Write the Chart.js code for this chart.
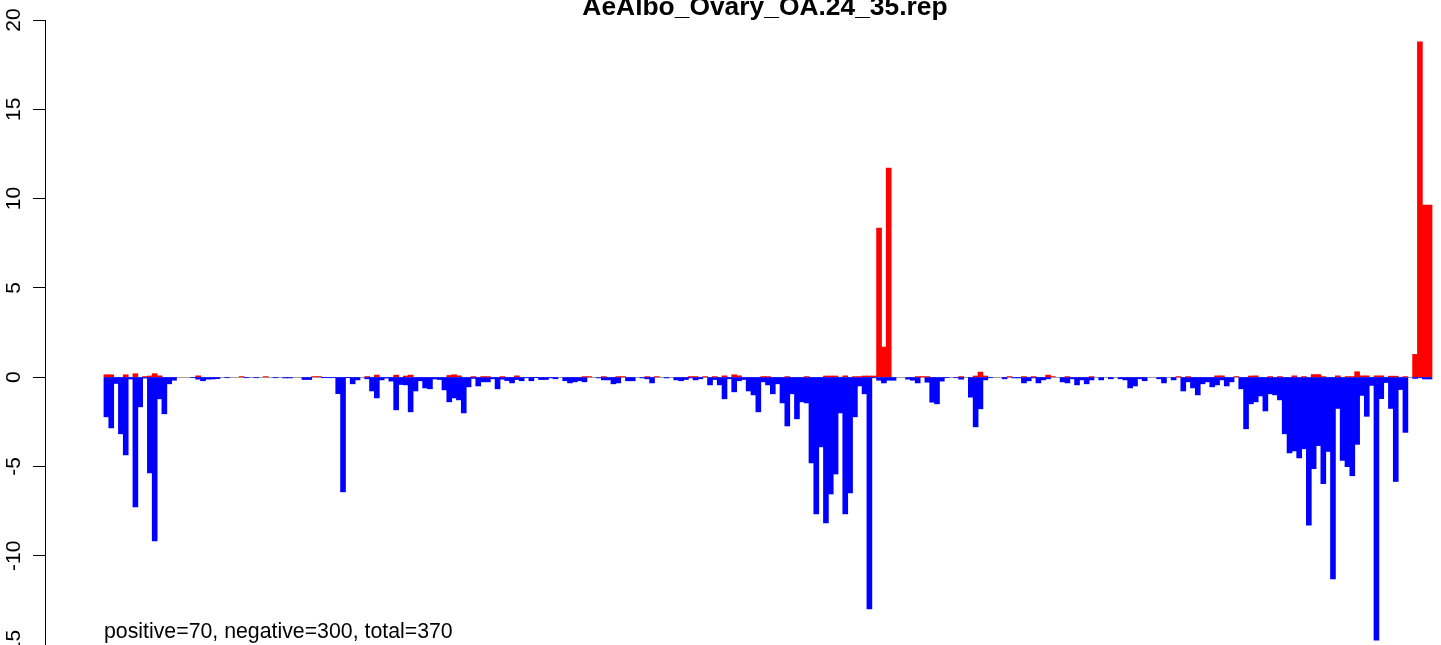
<!DOCTYPE html>
<html>
<head>
<meta charset="utf-8">
<script src="https://cdn.jsdelivr.net/npm/chart.js@4.4.0/dist/chart.umd.min.js"></script>
<style>
html,body{margin:0;padding:0;background:#fff;overflow:hidden}
#wrap{width:1441px;height:645px;position:relative}
canvas{display:block}
</style>
</head>
<body>
<div id="wrap"><canvas id="c" width="1441" height="645"></canvas></div>
<script>
const chartTitle = "AeAlbo_Ovary_OA.24_35.rep";
const noteText = "positive=70, negative=300, total=370";
const yTickValues = [-15, -10, -5, 0, 5, 10, 15, 20];

const positiveValues = [
  0.13,0.13,0,0,0.13,0,0.19,0,0.03,0.06,
  0.19,0.07,0,0,0,0,0,0,0,0.07,
  0,0,0,0,0,0,0,0,0.02,0,
  0,0,0,0.02,0,0,0,0,0,0,
  0,0,0,0.03,0.03,0,0,0,0,0,
  0,0,0,0,0.03,0,0.11,0,0,0,
  0.11,0,0.06,0.11,0,0,0,0,0,0,
  0,0.09,0.13,0.07,0,0,0.02,0,0.02,0.02,
  0,0,0.02,0,0,0.07,0,0,0,0,
  0,0,0,0,0,0,0,0,0,0.02,
  0.02,0,0,0.02,0,0,0.02,0.02,0,0,
  0,0,0.02,0,0.02,0,0,0,0,0,
  0,0.02,0.02,0,0.02,0,0.02,0,0.07,0,
  0.13,0.07,0,0,0,0,0.02,0.02,0,0,
  0,0.02,0,0,0,0.02,0,0,0,0.06,
  0.06,0.06,0,0.07,0,0.02,0.02,0.06,0.06,0.06,
  8.35,1.68,11.71,0,0,0,0,0,0.02,0.02,
  0.02,0,0,0,0,0,0,0.02,0,0,
  0.06,0.28,0.06,0,0,0,0,0.02,0,0,
  0.02,0,0.02,0,0,0.11,0.02,0,0,0.02,
  0,0,0,0,0.02,0,0,0,0,0,
  0,0,0,0,0,0,0,0,0,0,
  0,0,0.02,0,0.02,0,0,0,0,0,
  0.07,0.07,0,0,0.03,0,0,0.06,0.07,0,
  0,0.02,0,0.02,0,0,0.07,0,0.02,0,
  0.14,0.14,0.02,0,0,0.07,0,0.02,0.02,0.30,
  0.07,0.07,0,0.07,0.07,0,0.05,0.05,0,0.02,
  0,1.27,18.77,9.63,9.63
];

const negativeValues = [
  -2.22,-2.84,-0.35,-3.17,-4.35,-0.10,-7.26,-1.66,-0.05,-5.36,
  -9.17,-1.21,-2.05,-0.37,-0.17,0,0,0,-0.03,-0.11,
  -0.20,-0.11,-0.10,-0.08,0,-0.03,0,0,0,-0.03,
  0,-0.03,0,0,0,-0.03,0,-0.04,-0.04,0,
  0,-0.13,-0.13,0,0,-0.02,-0.03,-0.03,-0.92,-6.42,
  -0.02,-0.37,-0.15,0,-0.09,-0.77,-1.16,-0.15,-0.05,-0.22,
  -1.83,-0.41,-0.43,-1.94,-0.77,-0.20,-0.60,-0.65,-0.10,-0.13,
  -0.71,-1.38,-1.16,-1.27,-2.00,-0.54,-0.07,-0.49,-0.26,-0.26,
  -0.09,-0.65,-0.11,-0.19,-0.32,-0.13,-0.20,-0.03,-0.20,-0.02,
  -0.13,-0.13,-0.04,-0.09,0,-0.20,-0.32,-0.26,-0.20,-0.26,
  0,0,-0.04,-0.15,-0.15,-0.37,-0.32,0,-0.20,-0.20,
  0,-0.04,-0.09,-0.32,0,0,-0.04,0,-0.15,-0.20,
  -0.13,-0.04,-0.15,-0.09,0,-0.43,-0.13,-0.43,-1.21,-0.09,
  -0.82,-0.20,-0.13,-0.77,-0.99,-1.94,-0.26,-0.43,-0.93,-0.37,
  -1.44,-2.73,-0.93,-2.33,-1.38,-1.44,-4.80,-7.66,-3.90,-8.16,
  -6.54,-5.42,-2.00,-7.66,-6.48,-2.22,-0.49,-0.93,-12.98,-0.03,
  -0.17,-0.32,-0.17,-0.17,0,0,-0.11,-0.17,-0.32,0,
  -0.28,-1.40,-1.49,-0.22,-0.03,0,-0.03,-0.11,0,-1.12,
  -2.78,-1.77,-0.15,-0.03,0,0,-0.09,0,-0.04,-0.04,
  -0.32,-0.20,-0.04,-0.32,-0.15,-0.09,0,0,-0.26,-0.32,
  -0.09,-0.43,-0.15,-0.37,-0.15,0,-0.15,0,-0.09,0,
  -0.09,-0.15,-0.60,-0.49,-0.09,-0.20,0,0,-0.09,-0.32,
  0,-0.15,0,-0.77,-0.26,-0.60,-0.99,-0.37,-0.26,-0.54,
  -0.43,-0.15,-0.49,-0.26,0,-0.65,-2.89,-1.49,-1.38,-1.05,
  -1.89,-0.93,-0.99,-1.27,-3.17,-4.24,-4.13,-4.52,-4.01,-8.29,
  -5.12,-3.83,-5.96,-4.16,-11.29,-1.75,-4.66,-5.01,-5.52,-3.76,
  -1.02,-2.19,-0.46,-14.73,-1.20,-0.30,-1.75,-5.84,-0.69,-3.09,
  0,-0.07,-0.03,-0.10,-0.10
];

const FONT = '"Liberation Sans", Arial, Helvetica, sans-serif';
const toPoints = arr => arr.map((v, i) => ({x: i, y: v}));
// widen non-empty bars a little so neighbours join without seams; empty bars stay invisible
const inflateNonZero = ctx => (ctx.raw && ctx.raw.y !== 0 ? 0.4 : 0);

const zeroLinePlugin = {
  id: 'zeroLine',
  beforeDatasetsDraw(chart) {
    const xs = chart.scales.x, ys = chart.scales.y, ctx = chart.ctx;
    const y = Math.round(ys.getPixelForValue(0)) + 0.5;
    ctx.save();
    ctx.strokeStyle = '#a0a0a0';
    ctx.lineWidth = 1;
    ctx.beginPath();
    ctx.moveTo(xs.getPixelForValue(-0.5), y);
    ctx.lineTo(xs.getPixelForValue(positiveValues.length - 0.5), y);
    ctx.stroke();
    ctx.restore();
  }
};

const notePlugin = {
  id: 'note',
  afterLayout(chart) {
    // centre the title over the (wider) plot region, as R does
    const tb = chart.titleBlock;
    tb.left = chart.chartArea.left;
    tb.right = chart.chartArea.left + 1440;
  },
  afterDraw(chart) {
    const xs = chart.scales.x, ys = chart.scales.y, ctx = chart.ctx;
    ctx.save();
    ctx.font = '21.3px ' + FONT;
    ctx.fillStyle = '#000';
    ctx.textAlign = 'left';
    ctx.textBaseline = 'alphabetic';
    ctx.fillText(noteText, xs.getPixelForValue(-0.5), ys.getPixelForValue(-14.62));
    ctx.restore();
  }
};

new Chart(document.getElementById('c'), {
  type: 'bar',
  data: {
    datasets: [
      { label: 'positive', data: toPoints(positiveValues), backgroundColor: '#ff0000', borderWidth: 0, inflateAmount: inflateNonZero },
      { label: 'negative', data: toPoints(negativeValues), backgroundColor: '#0000ff', borderWidth: 0, inflateAmount: inflateNonZero }
    ]
  },
  options: {
    responsive: false,
    devicePixelRatio: 1,
    animation: false,
    layout: { padding: 0, autoPadding: false },
    datasets: { bar: { barPercentage: 1, categoryPercentage: 1 } },
    plugins: {
      legend: { display: false },
      tooltip: { enabled: false },
      title: {
        display: true,
        text: chartTitle,
        fullSize: false,
        color: '#000',
        font: { family: FONT, size: 26.4, weight: 'bold', lineHeight: 1 },
        padding: { top: -5.2, bottom: -1.2 }
      }
    },
    scales: {
      x: {
        type: 'linear',
        stacked: true,
        display: false,
        offset: false,
        grid: { offset: false },
        min: -12.717,
        max: 276.37,
        afterBuildTicks: s => { s.ticks = [{value: s.min}, {value: s.max}]; }
      },
      y: {
        type: 'linear',
        stacked: true,
        min: -15,
        max: 20,
        afterBuildTicks: s => { s.ticks = yTickValues.map(v => ({value: v})); },
        afterFit: s => { s.width = 45; s.paddingTop = 0; s.paddingBottom = 0; },
        border: { display: true, color: '#000', width: 1 },
        grid: { display: true, drawOnChartArea: false, drawTicks: true, tickLength: 12, color: '#000', lineWidth: 1 },
        ticks: {
          color: '#000',
          font: { family: FONT, size: 21 },
          minRotation: 90,
          maxRotation: 90,
          crossAlign: 'center',
          padding: 4,
          callback: v => String(v)
        }
      }
    }
  },
  plugins: [zeroLinePlugin, notePlugin]
});
</script>
</body>
</html>
